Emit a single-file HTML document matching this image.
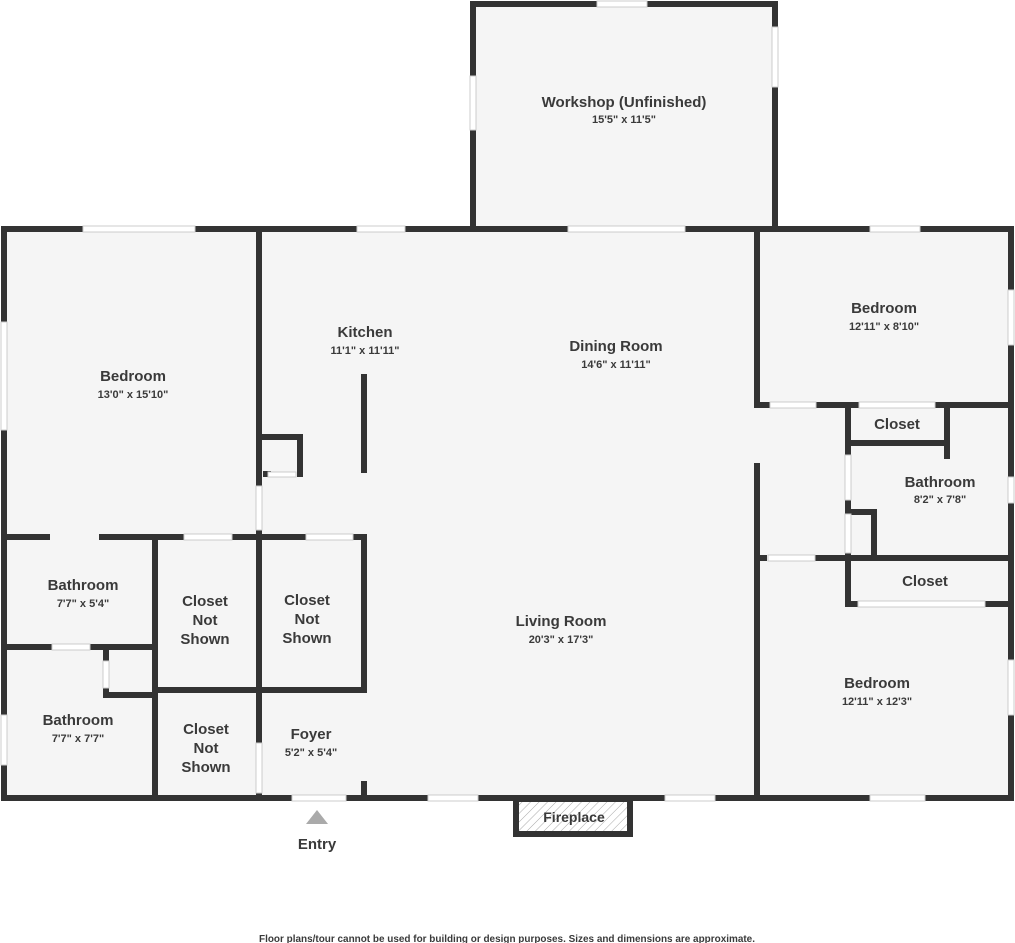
<!DOCTYPE html>
<html><head><meta charset="utf-8"><style>
html,body{margin:0;padding:0;background:#fff;}
svg{display:block;}
text{font-family:"Liberation Sans","DejaVu Sans",sans-serif;fill:#3a3a3a;text-anchor:middle;}
.n{font-size:15px;font-weight:bold;}
.d{font-size:11px;font-weight:bold;}
</style></head><body>
<svg width="1015" height="943" viewBox="0 0 1015 943">
<defs>
<pattern id="h" width="6" height="6" patternUnits="userSpaceOnUse" patternTransform="rotate(45)">
<rect width="6" height="6" fill="#fff"/><line x1="0" y1="0" x2="0" y2="6" stroke="#aaa" stroke-width="1"/>
</pattern>
</defs>
<rect x="4" y="229" width="1007" height="569" fill="#f5f5f5"/>
<rect x="473" y="4" width="302" height="225" fill="#f5f5f5"/>
<g stroke="#333" stroke-width="6" stroke-linecap="square" fill="none">
<path d="M4 229 H1011 V798 H4 Z"/>
<path d="M473 229 V4 H775 V229"/>
<path d="M259 229 V484"/>
<path d="M259 530 V537"/>
<path d="M259 437 H300 V474"/>
<line x1="266" y1="474" x2="268" y2="474"/>
<line x1="364" y1="377" x2="364" y2="470"/>
<path d="M4 537 H47"/><path d="M102 537 H181"/><path d="M234 537 H304"/><path d="M355 537 H364 V688"/>
<path d="M155 537 V798"/>
<path d="M259 537 V741"/><path d="M259 793 V798"/>
<path d="M4 647 H50"/><path d="M92 647 H155"/>
<path d="M106 647 V659"/><path d="M106 689 V695 H155"/>
<path d="M155 690 H364"/>
<path d="M364 784 V798"/>
<path d="M757 229 V405 H768"/><path d="M818 405 H857"/><path d="M937 405 H1011"/>
<path d="M848 405 V452"/><path d="M848 443 H947"/><path d="M947 405 V456"/>
<path d="M848 501 V512 H874 V555"/><path d="M848 553 V558"/>
<path d="M757 466 V798"/>
<path d="M757 558 H764"/><path d="M817 558 H1011"/>
<path d="M848 558 V604 H856"/><path d="M987 604 H1011"/>
</g>
<g fill="#fff" stroke="#ccc" stroke-width="1">
<rect x="83" y="226" width="112" height="6"/>
<rect x="357" y="226" width="48" height="6"/>
<rect x="568" y="226" width="117" height="6"/>
<rect x="870" y="226" width="50" height="6"/>
<rect x="597" y="1" width="50" height="6"/>
<rect x="772" y="27" width="6" height="60"/>
<rect x="470" y="76" width="6" height="54"/>
<rect x="1008" y="290" width="6" height="55"/>
<rect x="1008" y="477" width="6" height="26"/>
<rect x="1008" y="660" width="6" height="55"/>
<rect x="1" y="322" width="6" height="108"/>
<rect x="1" y="715" width="6" height="50"/>
<rect x="428" y="795" width="50" height="6"/>
<rect x="665" y="795" width="50" height="6"/>
<rect x="870" y="795" width="55" height="6"/>
<rect x="292" y="795" width="54" height="6"/>
<rect x="256" y="486" width="6" height="44"/>
<rect x="268" y="472" width="28" height="5"/>
<rect x="184" y="534" width="48" height="6"/>
<rect x="306" y="534" width="47" height="6"/>
<rect x="52" y="644" width="38" height="6"/>
<rect x="103" y="661" width="6" height="27"/>
<rect x="256" y="743" width="6" height="50"/>
<rect x="770" y="402" width="46" height="6"/>
<rect x="859" y="402" width="76" height="6"/>
<rect x="845" y="455" width="6" height="45"/>
<rect x="845" y="514" width="6" height="39"/>
<rect x="768" y="555" width="47" height="6"/>
<rect x="858" y="601" width="127" height="6"/>
</g>
<rect x="516" y="799" width="114" height="35" fill="url(#h)" stroke="#333" stroke-width="6"/>
<line x1="513" y1="798" x2="633" y2="798" stroke="#333" stroke-width="6"/>
<text class="n" x="574" y="822" style="font-size:14px">Fireplace</text>
<polygon points="317,810 306,824 328,824" fill="#aaa"/>
<text class="n" x="317" y="849">Entry</text>
<text class="n" x="624" y="107">Workshop (Unfinished)</text><text class="d" x="624" y="123">15'5" x 11'5"</text>
<text class="n" x="133" y="381">Bedroom</text><text class="d" x="133" y="398">13'0" x 15'10"</text>
<text class="n" x="365" y="337">Kitchen</text><text class="d" x="365" y="354">11'1" x 11'11"</text>
<text class="n" x="616" y="351">Dining Room</text><text class="d" x="616" y="368">14'6" x 11'11"</text>
<text class="n" x="884" y="313">Bedroom</text><text class="d" x="884" y="330">12'11" x 8'10"</text>
<text class="n" x="897" y="429">Closet</text>
<text class="n" x="940" y="487">Bathroom</text><text class="d" x="940" y="503">8'2" x 7'8"</text>
<text class="n" x="925" y="586">Closet</text>
<text class="n" x="877" y="688">Bedroom</text><text class="d" x="877" y="705">12'11" x 12'3"</text>
<text class="n" x="561" y="626">Living Room</text><text class="d" x="561" y="643">20'3" x 17'3"</text>
<text class="n" x="83" y="590">Bathroom</text><text class="d" x="83" y="607">7'7" x 5'4"</text>
<text class="n" x="78" y="725">Bathroom</text><text class="d" x="78" y="742">7'7" x 7'7"</text>
<text class="n" x="205" y="606">Closet</text><text class="n" x="205" y="625">Not</text><text class="n" x="205" y="644">Shown</text>
<text class="n" x="307" y="605">Closet</text><text class="n" x="307" y="624">Not</text><text class="n" x="307" y="643">Shown</text>
<text class="n" x="206" y="734">Closet</text><text class="n" x="206" y="753">Not</text><text class="n" x="206" y="772">Shown</text>
<text class="n" x="311" y="739">Foyer</text><text class="d" x="311" y="756">5'2" x 5'4"</text>
<text x="507" y="942" textLength="496" lengthAdjust="spacingAndGlyphs" style="font-size:10px;font-weight:bold">Floor plans/tour cannot be used for building or design purposes. Sizes and dimensions are approximate.</text>
</svg>
</body></html>
